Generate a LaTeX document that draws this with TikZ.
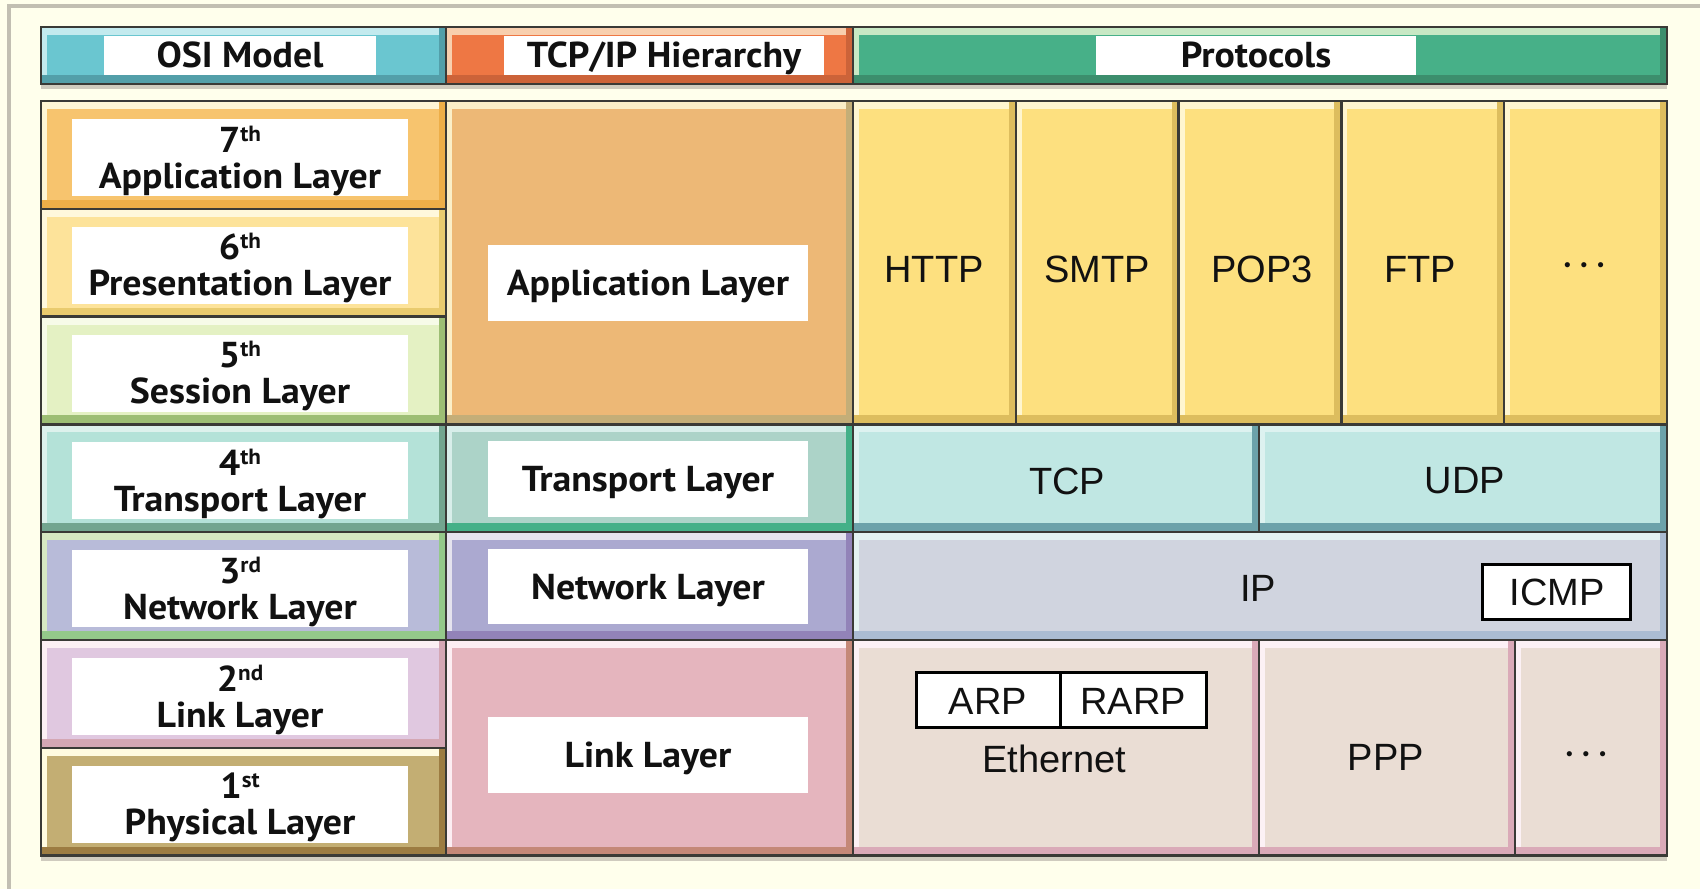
\documentclass[tikz,border=0pt]{standalone}
\usepackage{fontspec}
\setmainfont{PT Sans}
\newfontfamily\labfont[FakeStretch=1.05]{PT Sans}
\newfontfamily\protofont{Liberation Sans}
\usetikzlibrary{fit}
\definecolor{bgc}{HTML}{FFFFEC}
\definecolor{edgec}{HTML}{C2BFB2}
\definecolor{shadc}{HTML}{CFCBBE}
\definecolor{gridc}{HTML}{3A3A36}
\definecolor{txtc}{HTML}{111111}
\definecolor{hosi}{HTML}{6AC6D0}\definecolor{hosil}{HTML}{C3EAEE}\definecolor{hosid}{HTML}{539FA9}
\definecolor{htcp}{HTML}{EE7744}\definecolor{htcpl}{HTML}{F8CFAE}\definecolor{htcpd}{HTML}{CC6339}
\definecolor{hpro}{HTML}{47B088}\definecolor{hprol}{HTML}{C7E8C4}\definecolor{hprod}{HTML}{3C8E6D}
\definecolor{o7}{HTML}{F7C46E}\definecolor{o7l}{HTML}{FFF6D5}\definecolor{o7d}{HTML}{EDAE48}
\definecolor{o6}{HTML}{FDE39A}\definecolor{o6l}{HTML}{FFF8DC}\definecolor{o6d}{HTML}{E9CB6E}
\definecolor{o5}{HTML}{E4F1C3}\definecolor{o5l}{HTML}{F7FBE8}\definecolor{o5d}{HTML}{9DBE74}
\definecolor{o4}{HTML}{B4E2D8}\definecolor{o4l}{HTML}{DDF1EC}\definecolor{o4d}{HTML}{72A58F}
\definecolor{o3}{HTML}{B8BBD9}\definecolor{o3l}{HTML}{D6E8C2}\definecolor{o3d}{HTML}{94C98A}
\definecolor{o2}{HTML}{E0C8E0}\definecolor{o2l}{HTML}{FCF0F4}\definecolor{o2d}{HTML}{D4A7B4}
\definecolor{o1}{HTML}{C3AE73}\definecolor{o1l}{HTML}{FFFBE0}\definecolor{o1d}{HTML}{9C7C42}
\definecolor{ta}{HTML}{EDB876}\definecolor{tal}{HTML}{FBEFC8}\definecolor{tad}{HTML}{C4AE78}
\definecolor{tt}{HTML}{ACD3C8}\definecolor{ttl}{HTML}{D8EEEA}\definecolor{ttd}{HTML}{44B088}
\definecolor{tn}{HTML}{ABA9D0}\definecolor{tnl}{HTML}{E5E3EE}\definecolor{tnd}{HTML}{9283B8}
\definecolor{tl}{HTML}{E5B5BE}\definecolor{tll}{HTML}{FCEEF3}\definecolor{tld}{HTML}{C48878}
\definecolor{pa}{HTML}{FDE07F}\definecolor{pal}{HTML}{FFF6D0}\definecolor{pad}{HTML}{DDBD5E}
\definecolor{pt}{HTML}{C0E7E3}\definecolor{ptl}{HTML}{DDF2F0}\definecolor{ptd}{HTML}{6CA2AA}
\definecolor{pn}{HTML}{D0D4DF}\definecolor{pnl}{HTML}{E4F2F2}\definecolor{pnd}{HTML}{ABBCD2}
\definecolor{pl}{HTML}{EADDD4}\definecolor{pll}{HTML}{FCF1F5}\definecolor{pld}{HTML}{DAAAB8}
\tikzset{
  cell/.style n args={3}{draw=gridc, line width=2.5pt, inner sep=0pt, fill=#1,
    path picture={
      \fill[#2] (path picture bounding box.north west) rectangle ([xshift=6pt]path picture bounding box.south west);
      \fill[#2] (path picture bounding box.north west) rectangle ([yshift=-8pt]path picture bounding box.north east);
      \fill[#3] ([xshift=-7pt]path picture bounding box.north east) rectangle (path picture bounding box.south east);
      \fill[#3] (path picture bounding box.south west) rectangle ([yshift=9pt]path picture bounding box.south east);
    }},
  wbox/.style={fill=white, inner sep=0pt, draw=none},
  lab/.style={font=\labfont\bfseries\fontsize{36}{36}\selectfont, text=txtc, inner sep=0pt, anchor=base},
  prot/.style={font=\protofont\fontsize{38}{38}\selectfont, text=txtc, inner sep=0pt},
  dots/.style={font=\protofont\fontsize{19}{19}\selectfont, text=txtc, inner sep=0pt},
  pbox/.style={fill=white, draw=black, line width=3pt, inner sep=0pt},
}
\newcommand{\ord}[2]{#1\raisebox{11pt}{\fontsize{22}{22}\selectfont #2}}
\newcommand{\threedots}{•\hspace{10pt}•\hspace{10pt}•}
\begin{document}
\begin{tikzpicture}[x=1pt,y=-1pt]
\useasboundingbox (0,0) rectangle (1700,889);
\fill[bgc] (0,0) rectangle (1700,889);
\fill[edgec] (7,4) rectangle (1700,7.5);
\fill[edgec] (7,4) rectangle (10.5,889);
% shadows
\fill[shadc] (41,84) rectangle (1667,89);
\fill[shadc] (41,855) rectangle (1667,861);

% header
\node[cell={hosi}{hosil}{hosid}, fit={(41,27)(446,84)}] (hOSI) {};
\node[cell={htcp}{htcpl}{htcpd}, fit={(446,27)(853,84)}] (hTCP) {};
\node[cell={hpro}{hprol}{hprod}, fit={(853,27)(1667,84)}] (hPRO) {};
\node[wbox, fit={(104,36)(376,75)}] (whOSI) {};
\node[wbox, fit={(504,36)(824,75)}] (whTCP) {};
\node[wbox, fit={(1096,36)(1416,75)}] (whPRO) {};
\node[lab] (tOSI) at (240,67) {OSI Model};
\node[lab] (tTCP) at (664,67) {TCP/IP Hierarchy};
\node[lab] (tPRO) at (1256,67) {Protocols};

% OSI column
\node[cell={o7}{o7l}{o7d}, fit={(41,101)(446,208.8)}] (o7c) {};
\node[cell={o6}{o6l}{o6d}, fit={(41,208.8)(446,316.6)}] (o6c) {};
\node[cell={o5}{o5l}{o5d}, fit={(41,316.6)(446,424.4)}] (o5c) {};
\node[cell={o4}{o4l}{o4d}, fit={(41,424.4)(446,532.2)}] (o4c) {};
\node[cell={o3}{o3l}{o3d}, fit={(41,532.2)(446,640)}] (o3c) {};
\node[cell={o2}{o2l}{o2d}, fit={(41,640)(446,747.8)}] (o2c) {};
\node[cell={o1}{o1l}{o1d}, fit={(41,747.8)(446,855.6)}] (o1c) {};
\node[wbox, fit={(72,119)(408,196)}] (w7) {};
\node[wbox, fit={(72,226.8)(408,303.8)}] (w6) {};
\node[wbox, fit={(72,334.6)(408,411.6)}] (w5) {};
\node[wbox, fit={(72,442.4)(408,519.4)}] (w4) {};
\node[wbox, fit={(72,550.2)(408,627.2)}] (w3) {};
\node[wbox, fit={(72,658)(408,735)}] (w2) {};
\node[wbox, fit={(72,765.8)(408,842.8)}] (w1) {};
\node[lab] (n7) at (240,152) {\ord{7}{th}};
\node[lab] (t7) at (240,188) {Application Layer};
\node[lab] (n6) at (240,259.8) {\ord{6}{th}};
\node[lab] (t6) at (240,295.8) {Presentation Layer};
\node[lab] (n5) at (240,367.6) {\ord{5}{th}};
\node[lab] (t5) at (240,403.6) {Session Layer};
\node[lab] (n4) at (240,475.4) {\ord{4}{th}};
\node[lab] (t4) at (240,511.4) {Transport Layer};
\node[lab] (n3) at (240,583.2) {\ord{3}{rd}};
\node[lab] (t3) at (240,619.2) {Network Layer};
\node[lab] (n2) at (240,691) {\ord{2}{nd}};
\node[lab] (t2) at (240,727) {Link Layer};
\node[lab] (n1) at (240,798.8) {\ord{1}{st}};
\node[lab] (t1) at (240,834.8) {Physical Layer};

% TCP/IP column
\node[cell={ta}{tal}{tad}, fit={(446,101)(853,424.4)}] (tac) {};
\node[cell={tt}{ttl}{ttd}, fit={(446,424.4)(853,532.2)}] (ttc) {};
\node[cell={tn}{tnl}{tnd}, fit={(446,532.2)(853,640)}] (tnc) {};
\node[cell={tl}{tll}{tld}, fit={(446,640)(853,855.6)}] (tlc) {};
\node[wbox, fit={(488,245)(808,321)}] (wta) {};
\node[wbox, fit={(488,441)(808,517)}] (wtt) {};
\node[wbox, fit={(488,549)(808,624)}] (wtn) {};
\node[wbox, fit={(488,717)(808,793)}] (wtl) {};
\node[lab] (lta) at (648,295) {Application Layer};
\node[lab] (ltt) at (648,491) {Transport Layer};
\node[lab] (ltn) at (648,599) {Network Layer};
\node[lab] (ltl) at (648,767) {Link Layer};

% Protocols: application
\node[cell={pa}{pal}{pad}, fit={(853,101)(1015.8,424.4)}] (pHTTP) {};
\node[cell={pa}{pal}{pad}, fit={(1015.8,101)(1178.6,424.4)}] (pSMTP) {};
\node[cell={pa}{pal}{pad}, fit={(1178.6,101)(1341.4,424.4)}] (pPOP) {};
\node[cell={pa}{pal}{pad}, fit={(1341.4,101)(1504.2,424.4)}] (pFTP) {};
\node[cell={pa}{pal}{pad}, fit={(1504.2,101)(1667,424.4)}] (pMORE) {};
\node[prot] (lHTTP) at (934,269) {HTTP};
\node[prot] (lSMTP) at (1097,269) {SMTP};
\node[prot] (lPOP) at (1262,269) {POP3};
\node[prot] (lFTP) at (1420,269) {FTP};
\node[dots] (lMORE) at (1584,267) {\threedots};
% transport
\node[cell={pt}{ptl}{ptd}, fit={(853,424.4)(1259,532.2)}] (pTCP) {};
\node[cell={pt}{ptl}{ptd}, fit={(1259,424.4)(1667,532.2)}] (pUDP) {};
\node[prot] (lTCP) at (1067,481) {TCP};
\node[prot] (lUDP) at (1465,481) {UDP};
% network
\node[cell={pn}{pnl}{pnd}, fit={(853,532.2)(1667,640)}] (pIP) {};
\node[prot] (lIP) at (1258,588) {IP};
\node[pbox, fit={(1482,564)(1630,619)}] (bICMP) {};
\node[prot] (lICMP) at (1557,592) {ICMP};
% link
\node[cell={pl}{pll}{pld}, fit={(853,640)(1259,855.6)}] (pETH) {};
\node[cell={pl}{pll}{pld}, fit={(1259,640)(1515,855.6)}] (pPPP) {};
\node[cell={pl}{pll}{pld}, fit={(1515,640)(1667,855.6)}] (pLMORE) {};
\node[pbox, fit={(916,672)(1060,727)}] (bARP) {};
\node[pbox, fit={(1060,672)(1206,727)}] (bRARP) {};
\node[prot] (lARP) at (988,701) {ARP};
\node[prot] (lRARP) at (1133,701) {RARP};
\node[prot] (lETH) at (1054,759) {Ethernet};
\node[prot] (lPPP) at (1386,757) {PPP};
\node[dots] (lLMORE) at (1586,756) {\threedots};
\end{tikzpicture}
\end{document}
